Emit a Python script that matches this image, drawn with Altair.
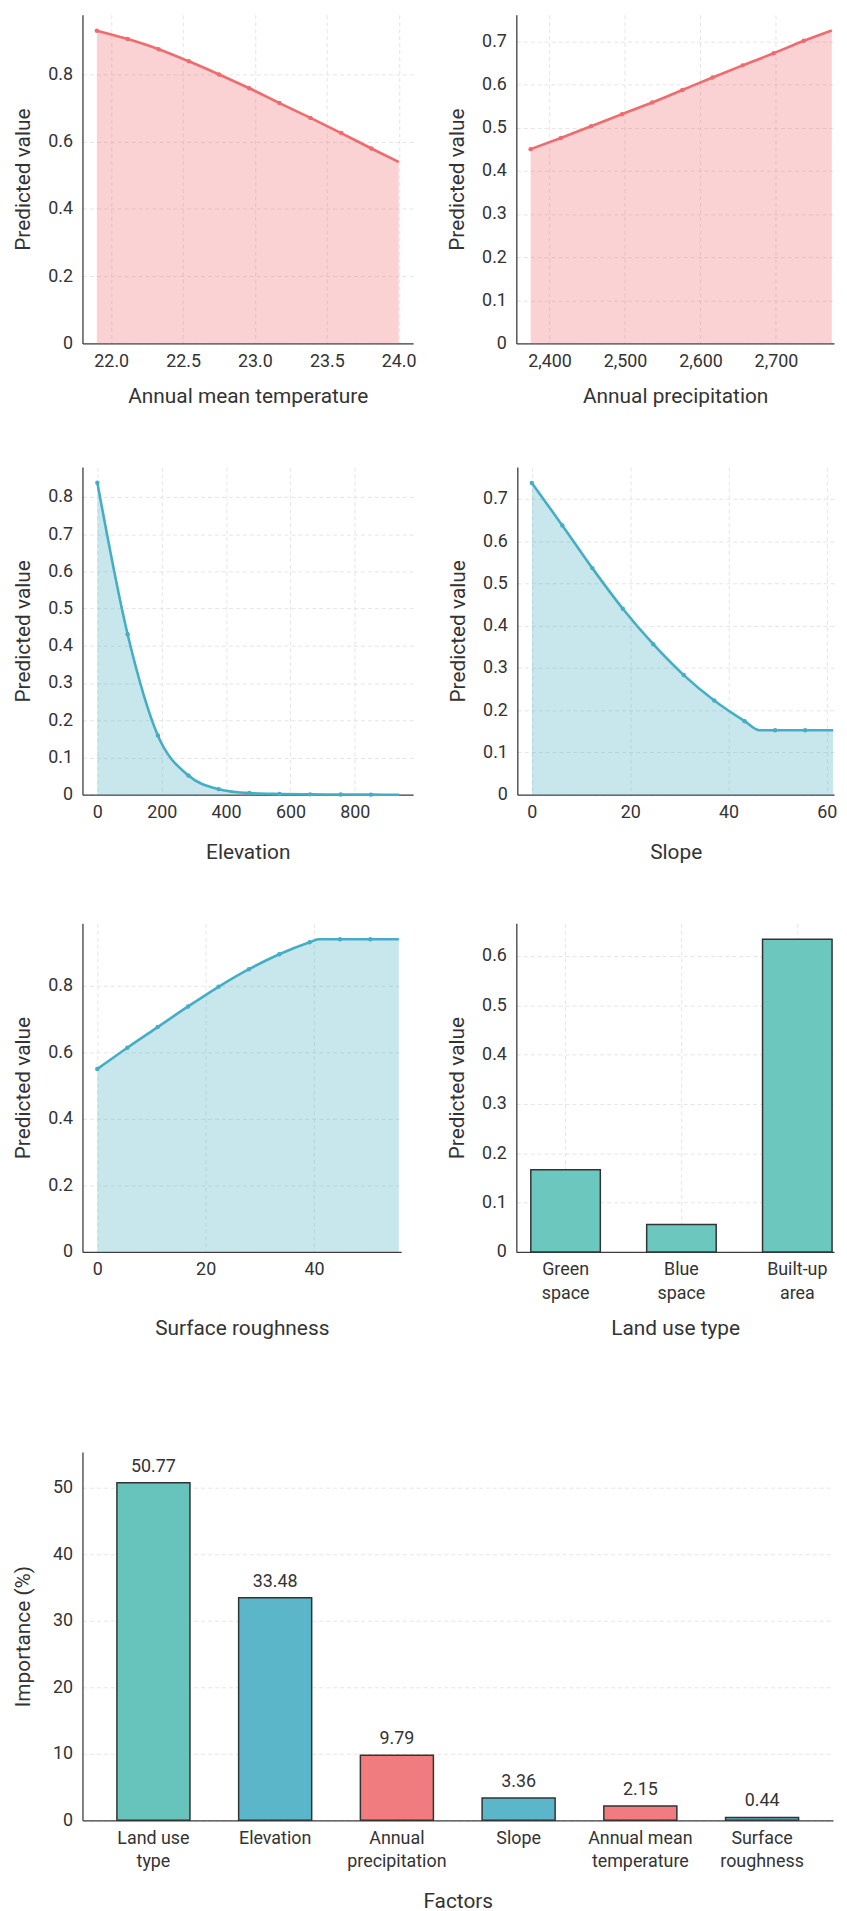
import altair as alt
import pandas as pd

FONT = "Roboto"
TEXT = "#333333"
RED = "#EE6B6E"
BLUE = "#46AEC4"

# ---------- data ----------
temp_x = [21.90, 22.115, 22.33, 22.54, 22.75, 22.96, 23.17, 23.386, 23.60, 23.81, 24.00]
temp_y = [0.929, 0.904, 0.874, 0.838, 0.799, 0.758, 0.714, 0.670, 0.625, 0.579, 0.539]
temp_mk = [1, 1, 1, 1, 1, 1, 1, 1, 1, 1, 0]

prec_x = [2375, 2415, 2455, 2496, 2536, 2576, 2616, 2656, 2697, 2737, 2774]
prec_y = [0.450, 0.476, 0.503, 0.531, 0.558, 0.587, 0.616, 0.644, 0.672, 0.701, 0.725]
prec_mk = [1, 1, 1, 1, 1, 1, 1, 1, 1, 1, 0]

elev_x = [0, 94, 188, 283, 377, 472, 566, 661, 756, 850, 938]
elev_y = [0.838, 0.431, 0.159, 0.0515, 0.015, 0.0044, 0.002, 0.001, 0.0005, 0.0002, 0.0001]
elev_mk = [1, 1, 1, 1, 1, 1, 1, 1, 1, 1, 0]

slope_x = [0, 6.2, 12.3, 18.5, 24.7, 30.9, 37.1, 43.3, 46.3, 49.5, 55.6, 61.3]
slope_y = [0.7375, 0.637, 0.536, 0.440, 0.356, 0.283, 0.223, 0.174, 0.1525, 0.1525, 0.1525, 0.1525]
slope_mk = [1, 1, 1, 1, 1, 1, 1, 1, 0, 1, 1, 0]

rough_x = [0, 5.55, 11.16, 16.77, 22.38, 27.99, 33.6, 39.2, 40.85, 44.8, 50.4, 55.67]
rough_y = [0.550, 0.614, 0.676, 0.738, 0.797, 0.850, 0.895, 0.931, 0.940, 0.940, 0.940, 0.940]
rough_mk = [1, 1, 1, 1, 1, 1, 1, 1, 0, 1, 1, 0]

landuse_types = ["Green space", "Blue space", "Built-up area"]
landuse_values = [0.1664, 0.0557, 0.6336]

factors = ["Land use type", "Elevation", "Annual precipitation", "Slope",
           "Annual mean temperature", "Surface roughness"]
importance = [50.77, 33.48, 9.79, 3.36, 2.15, 0.44]
factor_group = ["Land use", "Terrain", "Climate", "Terrain", "Climate", "Terrain"]

group_names = ["Land use", "Terrain", "Climate"]
group_colors = ["#66C4BC", "#5BB6C9", "#F07C7F"]

# ---------- helpers ----------
def split_expr(mapping):
    parts = []
    for k, v in mapping.items():
        arr = "[" + ",".join("'" + s + "'" for s in v) + "]"
        parts.append("datum.label == '" + k + "' ? " + arr)
    return " : ".join(parts) + " : datum.label"


YLAB = "datum.value == 0 ? '0' : format(datum.value, '.1f')"


def line_panel(x, y, mk, color, xdom, ydom, xvals, yvals, xfmt, xtitle, w, h, title_y):
    df = pd.DataFrame({"x": x, "y": y, "mk": mk})
    X = alt.X("x:Q", scale=alt.Scale(domain=xdom, nice=False, zero=False),
              axis=alt.Axis(values=xvals, format=xfmt, title=xtitle, titleY=title_y, grid=True))
    Y = alt.Y("y:Q", scale=alt.Scale(domain=ydom, nice=False, zero=False),
              axis=alt.Axis(values=yvals, title="Predicted value", labelExpr=YLAB, grid=True))
    base = alt.Chart(df)
    area = base.mark_area(color=color, opacity=0.3, interpolate="monotone").encode(x=X, y=Y)
    line = base.mark_line(color=color, strokeWidth=2.6, interpolate="monotone").encode(x=X, y=Y)
    pts = base.transform_filter("datum.mk == 1").mark_circle(
        color=color, size=20, opacity=1).encode(x=X, y=Y)
    return alt.layer(area, line, pts).properties(width=w, height=h)


p1 = line_panel(temp_x, temp_y, temp_mk, RED, [21.8, 24.1], [0, 0.976],
                [22.0, 22.5, 23.0, 23.5, 24.0], [0, 0.2, 0.4, 0.6, 0.8], ".1f",
                "Annual mean temperature", 333, 331, 42)
p2 = line_panel(prec_x, prec_y, prec_mk, RED, [2356, 2777], [0, 0.761],
                [2400, 2500, 2600, 2700], [0, 0.1, 0.2, 0.3, 0.4, 0.5, 0.6, 0.7], ",.0f",
                "Annual precipitation", 320, 331, 42)
p3 = line_panel(elev_x, elev_y, elev_mk, BLUE, [-46.3, 981], [0, 0.88],
                [0, 200, 400, 600, 800], [0, 0.1, 0.2, 0.3, 0.4, 0.5, 0.6, 0.7, 0.8], "d",
                "Elevation", 333, 330, 47)
p4 = line_panel(slope_x, slope_y, slope_mk, BLUE, [-2.96, 61.48], [0, 0.775],
                [0, 20, 40, 60], [0, 0.1, 0.2, 0.3, 0.4, 0.5, 0.6, 0.7], "d",
                "Slope", 319, 330, 47)
p5 = line_panel(rough_x, rough_y, rough_mk, BLUE, [-2.74, 56.1], [0, 0.988],
                [0, 20, 40], [0, 0.2, 0.4, 0.6, 0.8], "d",
                "Surface roughness", 321, 331, 66)

# land use bars
lu_df = pd.DataFrame({"cat": landuse_types, "val": landuse_values})
lu_labels = split_expr({"Green space": ["Green", "space"], "Blue space": ["Blue", "space"],
                        "Built-up area": ["Built-up", "area"]})
p6 = alt.Chart(lu_df).mark_bar(color="#6CC8BF", stroke="#333333", strokeWidth=1.5).encode(
    x=alt.X("cat:N", sort=landuse_types,
            scale=alt.Scale(paddingInner=0.4, paddingOuter=0.071, align=0.88),
            axis=alt.Axis(labelAngle=0, labelExpr=lu_labels, labelLineHeight=24,
                          title="Land use type", titleY=66, grid=True)),
    y=alt.Y("val:Q", scale=alt.Scale(domain=[0, 0.666], nice=False),
            axis=alt.Axis(values=[0, 0.1, 0.2, 0.3, 0.4, 0.5, 0.6], labelExpr=YLAB,
                          title="Predicted value", grid=True)),
).properties(width=320, height=331)

# importance bars
imp_df = pd.DataFrame({"factor": factors, "imp": importance, "grp": factor_group})
imp_labels = split_expr({"Land use type": ["Land use", "type"],
                         "Annual precipitation": ["Annual", "precipitation"],
                         "Annual mean temperature": ["Annual mean", "temperature"],
                         "Surface roughness": ["Surface", "roughness"]})
IX = alt.X("factor:N", sort=factors,
           scale=alt.Scale(paddingInner=0.4, paddingOuter=0.283),
           axis=alt.Axis(labelAngle=0, labelExpr=imp_labels, labelLineHeight=24,
                         title="Factors", titleY=71, grid=False))
IY = alt.Y("imp:Q", scale=alt.Scale(domain=[0, 55.4], nice=False),
           axis=alt.Axis(values=[0, 10, 20, 30, 40, 50], title="Importance (%)", grid=True))
imp_bars = alt.Chart(imp_df).mark_bar(stroke="#333333", strokeWidth=1.5).encode(
    x=IX, y=IY,
    color=alt.Color("grp:N", scale=alt.Scale(domain=group_names, range=group_colors), legend=None))
imp_text = alt.Chart(imp_df).mark_text(font=FONT, fontSize=18, color=TEXT,
                                       baseline="bottom", dy=-7).encode(
    x=IX, y=IY, text=alt.Text("imp:Q", format=".2f"))
p7 = alt.layer(imp_bars, imp_text).properties(
    width=756, height=371,
    title=alt.TitleParams(" ", fontSize=10, offset=43))

row1 = alt.hconcat(p1, p2, bounds="flush", spacing=104)
row2 = alt.hconcat(p3, p4, bounds="flush", spacing=105)
row3 = alt.hconcat(p5, p6, bounds="flush", spacing=116)

chart = alt.vconcat(row1, row2, row3, p7, spacing=61.5).properties(
    padding={"left": 5, "top": 0, "right": 0, "bottom": 0}
).configure_view(stroke=None).configure_axis(
    labelFont=FONT, titleFont=FONT, labelFontSize=18, titleFontSize=21,
    titleFontWeight="normal", labelColor=TEXT, titleColor=TEXT,
    domainColor="#3c3c3c", domainWidth=1.3, ticks=False, tickSize=0,
    gridColor="#dedede", gridDash=[4, 3], gridWidth=0.8, labelPadding=10
).configure_axisY(
    titleX=-49, titleAngle=-90, titleBaseline="bottom", titleAlign="center"
).configure_axisX(
    titleBaseline="top", labelPadding=9
).configure_title(font=FONT)

chart.save("out.html", embed_options={"renderer": "svg", "actions": False})
